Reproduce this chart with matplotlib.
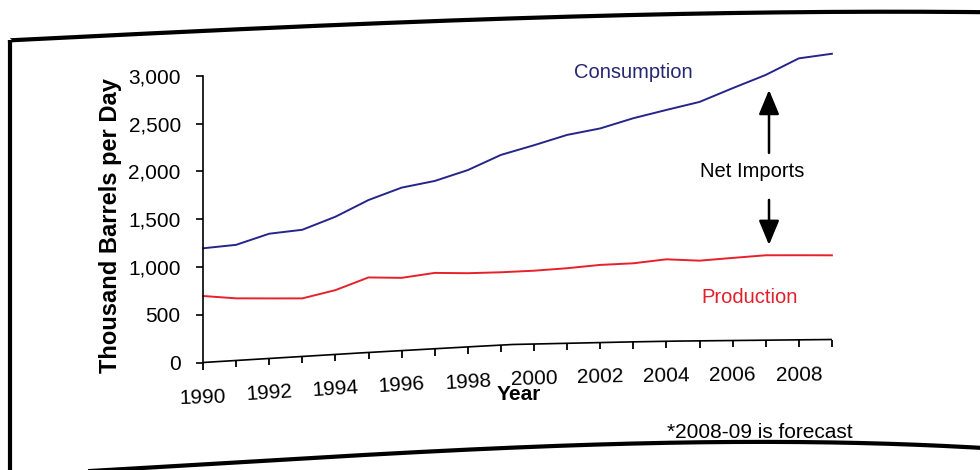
import numpy as np
import matplotlib
matplotlib.use("Agg")
import matplotlib.pyplot as plt
import matplotlib.transforms as mtransforms
from matplotlib.lines import Line2D
from matplotlib.markers import TICKDOWN
from matplotlib.ticker import FixedLocator, StrMethodFormatter

plt.rcParams['font.family'] = ['Liberation Sans', 'DejaVu Sans']

# India oil balance, thousand barrels per day
years = list(range(1990, 2010))
consumption = [1195, 1210, 1305, 1325, 1440, 1595, 1705, 1755, 1850, 1990,
               2080, 2180, 2240, 2340, 2420, 2500, 2640, 2775, 2945, 2990]
production = [696, 650, 628, 607, 672, 785, 761, 793, 771, 762,
              767, 785, 812, 822, 857, 839, 864, 888, 885, 881]
year_ticks = list(range(1990, 2010))
year_labels = list(range(1990, 2009, 2))
value_ticks = [0, 500, 1000, 1500, 2000, 2500, 3000]

W, H, DPI = 980, 470, 100

# The printed sheet curls upward toward the right: vertical lift in pixels
# as a function of horizontal pixel position.
LIFT_X = [203, 338, 438, 512, 600, 667, 750, 830]
LIFT_Y = [0.0, 8.3, 14.0, 18.0, 20.0, 21.3, 22.2, 23.0]


class PageCurl(mtransforms.Transform):
    input_dims = output_dims = 2

    def __init__(self, fig):
        super().__init__()
        self._fig = fig

    def transform_non_affine(self, values):
        v = np.array(values, dtype=float)
        pts = v.reshape(-1, 2)
        k = self._fig.dpi / DPI
        pts[:, 1] += np.interp(pts[:, 0] / k, LIFT_X, LIFT_Y) * k
        return pts.reshape(v.shape)


def lift_angle(px):
    d = np.interp(px + 5, LIFT_X, LIFT_Y) - np.interp(px - 5, LIFT_X, LIFT_Y)
    return np.degrees(np.arctan2(d, 10))


fig = plt.figure(figsize=(W / DPI, H / DPI), dpi=DPI)
ax = fig.add_axes([203 / W, 107.5 / H, 628.9 / W, 286.7 / H])
ax.set_xlim(1990, 2009)
ax.set_ylim(0, 3000)
curl = PageCurl(fig)
bent = ax.transData + curl


def shifted(dy_px):
    return bent + mtransforms.ScaledTranslation(0, dy_px / DPI, fig.dpi_scale_trans)


ax.patch.set_visible(False)
for side in ('top', 'right', 'bottom'):
    ax.spines[side].set_visible(False)
ax.spines['left'].set_linewidth(1.2)
ax.xaxis.set_visible(False)
ax.yaxis.set_major_locator(FixedLocator(value_ticks))
ax.yaxis.set_major_formatter(StrMethodFormatter('{x:,.0f}'))
ax.tick_params(axis='y', direction='out', length=5, width=1.2, pad=11,
               labelsize=15)

# category axis along the curled bottom edge
axis_x = np.linspace(years[0], year_ticks[-1], 200)
ax.plot(axis_x, np.zeros_like(axis_x), color='black', lw=1.2,
        transform=bent, clip_on=False, solid_capstyle='butt')
ax.plot(year_ticks, np.zeros(len(year_ticks)), ls='none', marker=TICKDOWN,
        ms=5, mew=1.3, color='black', transform=bent, clip_on=False)
for yr in year_labels:
    px = ax.transData.transform((yr, 0))[0]
    ax.text(yr, 0, str(yr), fontsize=15, ha='center', va='center',
            rotation=lift_angle(px), rotation_mode='anchor',
            transform=shifted(-35))

# series
ax.plot(years, consumption, color='#25258a', lw=1.4, transform=bent,
        clip_on=False)
ax.plot(years, production, color='#e8202a', lw=1.4, transform=bent,
        clip_on=False)

ax.text(2003.0, 2814, 'Consumption', color='#262673', fontsize=14.5,
        ha='center', va='center', transform=bent)
ax.text(2006.5, 445, 'Production', color='#e0202a', fontsize=14.5,
        ha='center', va='center', transform=bent)
ax.text(2006.6, 1763, 'Net Imports', color='black', fontsize=14.5,
        ha='center', va='center', transform=bent)

arrow = dict(arrowstyle='-|>,head_length=0.6,head_width=0.25', color='black',
             lw=1.8, mutation_scale=25, shrinkA=0, shrinkB=0)
ax.annotate('', xy=(2007.1, 2618), xytext=(2007.1, 1959),
            xycoords=bent, textcoords=bent, arrowprops=arrow)
ax.annotate('', xy=(2007.1, 996), xytext=(2007.1, 1467),
            xycoords=bent, textcoords=bent, arrowprops=arrow)

ax.text(1999.55, 0, 'Year', fontsize=15, fontweight='bold', ha='center',
        va='center', transform=shifted(-50))

fig.text(111 / W, 1 - 226 / H, 'Thousand Barrels per Day', rotation=90,
         fontsize=17, fontweight='bold', ha='center', va='center')
fig.text(760 / W, 1 - 432.5 / H, '*2008-09 is forecast', fontsize=15,
         ha='center', va='center')


# page border
def border(px, py, lead=None):
    c = np.polyfit(px, py, 3)
    xs = np.linspace(px[0], px[-1], 200)
    ys = np.polyval(c, xs)
    if lead is not None:
        xs = np.concatenate([lead[0], xs])
        ys = np.concatenate([lead[1], ys])
    fig.add_artist(Line2D(xs / W, 1 - ys / H, transform=fig.transFigure,
                          color='black', lw=3, solid_joinstyle='miter'))


border([10, 200, 333, 490, 723, 985], [40, 32, 25, 18, 14, 12],
       lead=([10, 10], [475, 40]))
border([60, 167, 300, 490, 690, 985], [472, 468, 458, 448, 443, 448])

fig.savefig('out.png', dpi=DPI)
